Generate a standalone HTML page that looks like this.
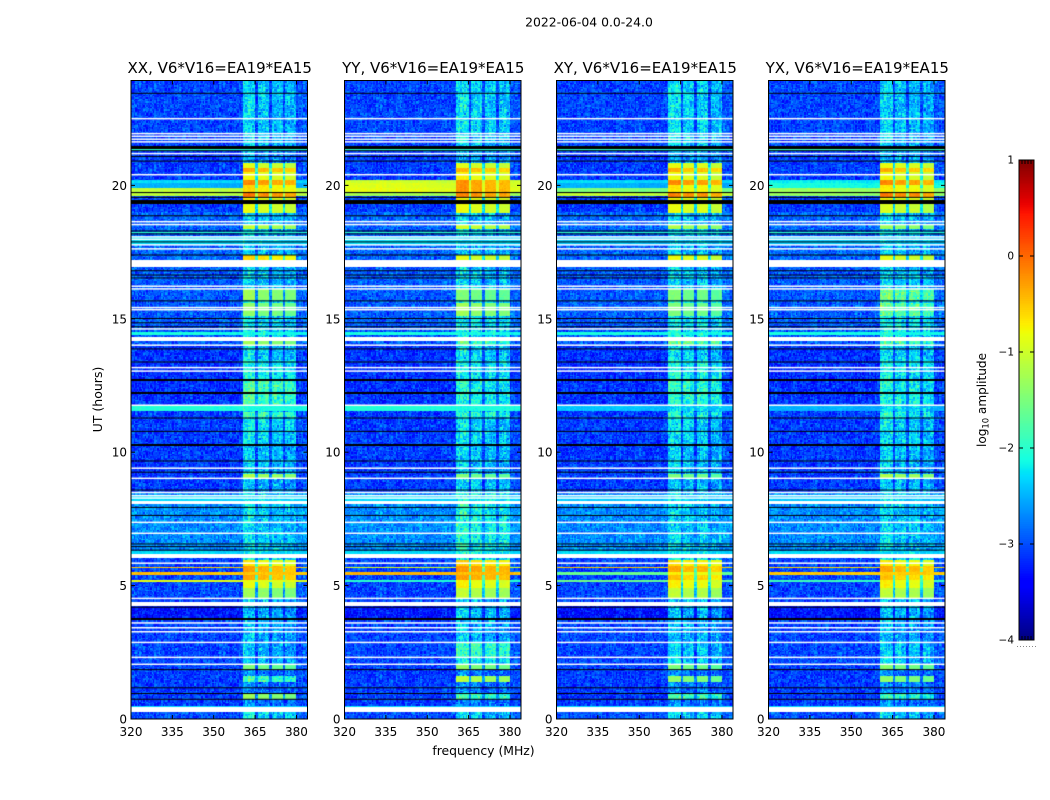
<!DOCTYPE html>
<html lang="en">
<head>
<meta charset="utf-8">
<title>2022-06-04 0.0-24.0</title>
<style>
  html, body { margin: 0; padding: 0; background: #fff; }
  #figure { position: relative; width: 1050px; height: 800px; overflow: hidden; background: #fff; }
  canvas { position: absolute; display: block; }
  svg { position: absolute; left: 0; top: 0; }
  text { font-family: "DejaVu Sans", "Liberation Sans", sans-serif; fill: #000; }
</style>
</head>
<body>
<div id="figure">
  <canvas id="colorbar-canvas" width="15" height="480" style="left:1019px;top:160px"></canvas>
  <svg id="overlay" width="1050" height="800" viewBox="0 0 1050 800">
    <text x="589" y="26.5" font-size="12.4" text-anchor="middle">2022-06-04 0.0-24.0</text>
    <text transform="translate(102,399.5) rotate(-90)" font-size="12.5" text-anchor="middle">UT (hours)</text>
    <text x="483.5" y="755" font-size="12.4" text-anchor="middle">frequency (MHz)</text>
    <text transform="translate(986,400) rotate(-90)" font-size="12.1" text-anchor="middle">log<tspan font-size="8.4" dy="2.5">10</tspan><tspan dy="-2.5"> amplitude</tspan></text>
    <line x1="1017" x2="1036" y1="646.5" y2="646.5" stroke="#888" stroke-width="1" stroke-dasharray="1 2"></line>
  </svg>
</div>
<script>
/* ---------- chart data ---------- */
const panelTitles = ["XX, V6*V16=EA19*EA15", "YY, V6*V16=EA19*EA15", "XY, V6*V16=EA19*EA15", "YX, V6*V16=EA19*EA15"];
const freqTickValues = [320, 335, 350, 365, 380];
const hourTickValues = [0, 5, 10, 15, 20];
const colorbarTickValues = [-4, -3, -2, -1, 0, 1];

/* frequency ranges (MHz) of the four bright sub-bands */
const subBands = [[360.5, 365], [366, 370], [371, 375], [376, 380]];
/* per-panel brightness offset of each sub-band (log10 amplitude) */
const subBandOffsetsXX = [0.12, 0.0, -0.05, -0.12];
const subBandOffsetsYY = [0.12, 0.02, -0.05, -0.08];
const subBandOffsetsXY = [0.12, 0.0, 0.02, -0.12];
const subBandOffsetsYX = [0.12, 0.0, 0.0, -0.12];

/* sub-band level by time: [startHour, endHour, XX, YY, XY, YX] */
const subBandLevels = [
  [23.9, 21.48, -2.42, -2.37, -2.37, -2.47],
  [21.48, 20.84, -2.6, -2.6, -2.6, -2.6],
  [20.84, 20.65, -1.0, -1.0, -0.95, -0.95],
  [20.65, 20.50, -0.45, -0.5, -0.5, -0.5],
  [20.50, 20.20, -0.9, -0.85, -0.95, -0.95],
  [20.20, 20.01, -0.3, -0.35, -0.3, -0.3],
  [20.01, 19.75, -0.7, -0.35, -0.8, -0.8],
  [19.75, 19.53, -0.2, -0.25, -0.25, -0.2],
  [19.53, 19.30, -0.85, -0.9, -0.9, -0.9],
  [19.30, 18.97, -0.95, -0.95, -0.95, -1.05],
  [18.97, 18.48, -2.47, -2.47, -2.47, -2.47],
  [18.48, 18.33, -1.2, -1.1, -1.3, -1.4],
  [18.33, 17.39, -2.47, -2.47, -2.47, -2.47],
  [17.39, 17.20, -0.7, -1.0, -0.95, -1.0],
  [17.20, 16.08, -2.42, -2.42, -2.42, -2.42],
  [16.08, 15.70, -1.4, -1.6, -1.6, -1.7],
  [15.70, 15.59, -2.22, -2.22, -2.22, -2.22],
  [15.59, 15.10, -1.5, -1.4, -1.6, -1.7],
  [15.10, 14.21, -2.27, -2.27, -2.27, -2.27],
  [14.21, 14.02, -1.4, -1.9, -1.7, -1.9],
  [14.02, 13.46, -2.37, -2.37, -2.37, -2.37],
  [13.46, 12.71, -2.17, -2.27, -2.17, -2.27],
  [12.71, 11.77, -1.85, -2.15, -2.05, -2.15],
  [11.77, 11.50, -2.37, -2.37, -2.37, -2.37],
  [11.50, 11.32, -1.9, -2.05, -2.15, -2.15],
  [11.32, 10.27, -2.32, -2.37, -2.37, -2.37],
  [10.27, 9.22, -2.47, -2.47, -2.47, -2.47],
  [9.22, 9.03, -1.3, -1.6, -1.6, -1.3],
  [9.03, 8.49, -2.5, -2.42, -2.5, -2.5],
  [8.49, 6.18, -2.37, -2.15, -2.42, -2.42],
  [6.18, 5.96, -2.22, -2.22, -2.22, -2.22],
  [5.96, 5.73, -0.8, -0.65, -0.75, -0.8],
  [5.73, 5.51, -0.4, -0.35, -0.45, -0.45],
  [5.51, 5.40, -0.9, -0.6, -0.85, -0.9],
  [5.40, 5.21, -0.45, -0.4, -0.6, -0.6],
  [5.21, 4.91, -0.95, -0.85, -0.85, -0.85],
  [4.91, 4.54, -1.4, -1.2, -1.2, -1.2],
  [4.54, 4.20, -2.42, -2.5, -2.42, -2.42],
  [4.20, 2.90, -2.55, -2.5, -2.55, -2.55],
  [2.90, 2.31, -2.5, -1.95, -2.42, -2.45],
  [2.31, 2.05, -2.5, -2.2, -2.42, -2.42],
  [2.05, 1.85, -1.6, -1.5, -1.6, -1.55],
  [1.85, 1.61, -2.8, -2.8, -2.8, -2.8],
  [1.61, 1.39, -1.9, -1.25, -1.5, -1.5],
  [1.39, 0.94, -2.8, -2.8, -2.8, -2.8],
  [0.94, 0.75, -1.4, -2.0, -1.9, -2.0],
  [0.75, 0.26, -2.8, -2.8, -2.8, -2.8],
  [0.26, 0.0, -2.3, -2.4, -2.4, -2.4]
];

/* full-width bright bands and lines: [startHour, endHour, XX, YY, XY, YX] */
const wideBandLevels = [
  [21.36, 21.28, -2.0, -2.0, -2.0, -1.9],
  [20.22, 20.10, -2.3, -1.0, -2.3, -2.2],
  [20.10, 19.90, -2.5, -0.9, -2.5, -2.1],
  [19.90, 19.76, -1.1, -0.85, -1.5, -1.3],
  [19.70, 19.58, -1.1, -1.25, -1.05, -1.35],
  [18.27, 18.18, -2.0, -2.0, -2.0, -2.0],
  [18.07, 17.77, -2.3, -2.3, -2.4, -2.4],
  [14.50, 14.39, -2.1, -2.1, -2.1, -2.1],
  [11.73, 11.56, -2.05, -2.05, -2.4, -2.5],
  [8.40, 8.10, -2.3, -2.3, -2.4, -2.4],
  [6.30, 6.18, -2.3, -2.3, -2.3, -2.3],
  [5.72, 5.66, -0.5, -0.9, -0.5, -0.6],
  [5.48, 5.42, -0.45, -0.4, -1.6, -0.5],
  [5.22, 5.16, -0.85, -2.0, -1.6, -1.9],
  [0.49, 0.45, -2.3, -2.3, -2.3, -2.3]
];

/* background level by time: [startHour, endHour, level] */
const backgroundLevels = [
  [24.0, 21.5, -3.05],
  [21.5, 19.0, -3.1],
  [19.0, 17.2, -2.9],
  [17.2, 14.0, -2.95],
  [14.0, 11.8, -3.15],
  [11.8, 8.5, -3.1],
  [8.5, 6.2, -2.7],
  [6.2, 4.3, -3.05],
  [4.3, 3.7, -3.3],
  [3.7, 1.9, -3.05],
  [1.9, 0.5, -3.1],
  [0.5, 0.0, -3.0]
];

/* flagged single rows (hour at line centre) */
const whiteRowHours = [22.50, 21.94, 21.84, 21.73, 21.63, 21.19, 20.40, 18.64, 18.53, 18.07, 17.98, 17.77, 17.62,
  16.22, 16.12, 15.42, 15.34, 14.62, 14.01, 13.17, 13.04, 11.76, 9.40, 9.02, 8.49, 8.37, 8.28,
  7.37, 6.96, 5.84, 4.52, 3.60, 3.42, 3.27, 2.87, 2.31, 2.05];
const blackRowHours = [23.45, 21.30, 21.08, 20.91, 19.73, 19.55, 18.86, 18.29, 18.18, 17.88, 17.39,
  16.80, 16.64, 16.53, 15.67, 15.01, 14.85, 14.70, 13.87, 13.38, 11.28, 10.78, 9.67, 9.25,
  8.58, 7.93, 7.63, 6.56, 6.46, 6.33, 4.19, 1.85, 1.17, 0.74];
/* flagged multi-row blocks: [startHour, endHour] */
const whiteBlocks = [[17.20, 16.93], [14.33, 14.18], [8.17, 8.06], [6.18, 6.02], [4.37, 4.25], [0.45, 0.26]];
const blackBlocks = [[21.49, 21.38], [19.45, 19.30], [12.74, 12.67], [12.25, 12.18], [10.30, 10.23], [3.78, 3.71], [0.99, 0.92]];

/* Fine pixel grain: a generic repeating texture, NOT read cell by cell from the reference. */
const speckleTexture = [0.12, -0.21, 0.31, -0.08, 0.02, -0.34, 0.19, 0.27, -0.15, 0.05, -0.26, 0.36, -0.02, -0.18, 0.09,
  0.24, -0.31, 0.14, -0.06, 0.33, -0.23, 0.07, -0.12, 0.21, -0.37, 0.16, 0.01, -0.09, 0.29, -0.28, 0.11,
  -0.17, 0.38, -0.04, 0.18, -0.33, 0.06, -0.24, 0.26, 0.0, -0.14, 0.34, -0.19, 0.08, -0.29, 0.22, -0.07,
  0.15, -0.36, 0.28, 0.03, -0.11, 0.2, -0.25, 0.1, 0.32, -0.16, -0.03, 0.25, -0.3, 0.13];

/* ---------- layout and scales ---------- */
const panelLefts = [131, 344.5, 556.5, 768.5];
const panelWidth = 176.5;
const panelTop = 80.5;
const panelBottom = 719;
const freqMin = 320, freqMax = 384;
const hourMin = 0, hourMax = 23.93;
const svgNS = "http://www.w3.org/2000/svg";
const overlay = document.getElementById("overlay");
const figure = document.getElementById("figure");

const xScale = (f, left) => left + (f - freqMin) / (freqMax - freqMin) * panelWidth;
const yScale = h => panelBottom - (h - hourMin) / (hourMax - hourMin) * (panelBottom - panelTop);

function jet(t) {
  const c = s => Math.round(255 * Math.max(0, Math.min(1, s)));
  const r = t < 0.35 ? 0 : t < 0.66 ? (t - 0.35) / 0.31 : t < 0.89 ? 1 : 1 - (t - 0.89) / 0.11 * 0.5;
  const g = t < 0.125 ? 0 : t < 0.375 ? (t - 0.125) / 0.25 : t < 0.64 ? 1 : t < 0.91 ? 1 - (t - 0.64) / 0.27 : 0;
  const b = t < 0.11 ? 0.5 + t / 0.11 * 0.5 : t < 0.34 ? 1 : t < 0.65 ? 1 - (t - 0.34) / 0.31 : 0;
  return "rgb(" + c(r) + "," + c(g) + "," + c(b) + ")";
}
const colorScale = v => jet((v + 4) / 5);

function makeLine(x1, y1, x2, y2, width) {
  const el = document.createElementNS(svgNS, "line");
  el.setAttribute("x1", x1);
  el.setAttribute("y1", y1);
  el.setAttribute("x2", x2);
  el.setAttribute("y2", y2);
  el.setAttribute("stroke", "#000");
  el.setAttribute("stroke-width", width || 1);
  overlay.appendChild(el);
  return el;
}
function makeText(x, y, str, size, anchor) {
  const el = document.createElementNS(svgNS, "text");
  el.setAttribute("x", x);
  el.setAttribute("y", y);
  el.setAttribute("font-size", size);
  el.setAttribute("text-anchor", anchor);
  el.textContent = str;
  overlay.appendChild(el);
  return el;
}
function lookup(table, h, column) {
  for (const row of table) {
    if (h <= Math.max(row[0], row[1]) && h > Math.min(row[0], row[1])) return row[column];
  }
  return null;
}
function grainAt(c, r) {
  const n = speckleTexture.length;
  const a = speckleTexture[(c * c * 7 + r * 13 + c) % n];
  const b = speckleTexture[(r * r * 11 + c * 23 + r) % n];
  return (a + b) * 0.8;
}

/* ---------- heatmaps ---------- */
const rowStep = 0.05, channelStep = 0.5;
const offsetSets = [subBandOffsetsXX, subBandOffsetsYY, subBandOffsetsXY, subBandOffsetsYX];

function cellValue(panel, f, h, c, r) {
  const grain = grainAt(c, r);
  let bg = lookup(backgroundLevels, h, 2);
  if (bg === null) bg = -3;
  if (f > 380.5) bg += 0.1;
  let v = bg + grain * 0.8;
  const wide = lookup(wideBandLevels, h, panel + 2);
  if (wide !== null) v = Math.max(v, wide + grain * 0.2 - (f > 350 ? 0.05 : 0));
  let gate = lookup(subBandLevels, h, panel + 2);
  if (gate === null) gate = -2.8;
  const strong = gate > -1.7;
  let inStrip = false;
  for (let s = 0; s < subBands.length; s++) {
    if (f >= subBands[s][0] && f < subBands[s][1]) {
      inStrip = true;
      v = Math.max(v, gate + offsetSets[panel][s] + grain * (strong ? 0.2 : 1.0));
    }
  }
  if (!inStrip && f >= 360.5 && f < 380) {
    v = Math.max(v, gate - (strong ? 1.3 : 0.7) + grain * 0.6);
  }
  return v;
}

panelLefts.forEach((left, panel) => {
  const cv = document.createElement("canvas");
  
  
  const px = Math.floor(left);
  const wpx = Math.ceil(panelWidth);
  const tpx = Math.floor(panelTop);
  const hpx = Math.ceil(panelBottom - panelTop);
  cv.width = wpx;
  cv.height = hpx;
  cv.style.left = px + "px";
  cv.style.top = tpx + "px";
  figure.insertBefore(cv, overlay);
  const ctx = cv.getContext("2d");
  ctx.fillStyle = colorScale(-3);
  ctx.fillRect(0, 0, wpx, hpx);

  const nChannels = Math.round((freqMax - freqMin) / channelStep);
  const nRows = Math.round((hourMax - hourMin) / rowStep);
  for (let r = 0; r < nRows; r++) {
    const h = hourMin + (r + 0.5) * rowStep;
    const y0 = Math.round(yScale(hourMin + (r + 1) * rowStep)) - tpx;
    const y1 = Math.round(yScale(hourMin + r * rowStep)) - tpx;
    for (let c = 0; c < nChannels; c++) {
      const f = freqMin + (c + 0.5) * channelStep;
      const x0 = Math.round(xScale(freqMin + c * channelStep, left)) - px;
      const x1 = Math.round(xScale(freqMin + (c + 1) * channelStep, left)) - px;
      ctx.fillStyle = colorScale(cellValue(panel, f, h, c + panel * 41, r + panel * 17));
      ctx.fillRect(x0, y0, x1 - x0, y1 - y0);
    }
  }
  const flagRow = (hour, color, thickness) => {
    ctx.fillStyle = color;
    ctx.fillRect(0, yScale(hour) - thickness / 2 - tpx, wpx, thickness);
  };
  const flagBlock = (block, color) => {
    ctx.fillStyle = color;
    const yTop = Math.round(yScale(block[0])) - tpx;
    const yEnd = Math.round(yScale(block[1])) - tpx;
    ctx.fillRect(0, yTop, wpx, yEnd - yTop);
  };
  blackRowHours.forEach(hr => flagRow(hr, "#000", 1));
  blackBlocks.forEach(b => flagBlock(b, "#000"));
  whiteRowHours.forEach(hr => flagRow(hr, "#fff", 1.5));
  whiteBlocks.forEach(b => flagBlock(b, "#fff"));

  /* frame */
  const frame = document.createElementNS(svgNS, "rect");
  frame.setAttribute("x", left);
  frame.setAttribute("y", panelTop);
  frame.setAttribute("width", panelWidth);
  frame.setAttribute("height", panelBottom - panelTop);
  frame.setAttribute("fill", "none");
  frame.setAttribute("stroke", "#000");
  frame.setAttribute("stroke-width", "1");
  
  
  overlay.appendChild(frame);

  /* title */
  const title = makeText(left + panelWidth / 2 + 0.5, 73, panelTitles[panel], 15, "middle");
  
  

  /* x ticks */
  freqTickValues.forEach(f => {
    const x = xScale(f, left);
    const bottomTick = makeLine(x, panelBottom, x, panelBottom - 4);
    
    
    const topTick = makeLine(x, panelTop, x, panelTop + 4);
    
    
    const label = makeText(x, 736, String(f), 12, "middle");
    
    
  });

  /* y ticks */
  hourTickValues.forEach(hr => {
    const y = yScale(hr);
    const leftTick = makeLine(left, y, left + 4, y);
    
    
    const rightTick = makeLine(left + panelWidth, y, left + panelWidth - 4, y);
    
    
    const label = makeText(left - 4, y + 4.5, String(hr), 12, "end");
    
    
  });
});

/* ---------- colorbar ---------- */
const cbTop = 160, cbBottom = 640, cbLeft = 1019, cbRight = 1034;
const cbScale = v => cbBottom - (v + 4) / 5 * (cbBottom - cbTop);
const cbCtx = document.getElementById("colorbar-canvas").getContext("2d");
for (let i = 0; i < 256; i++) {
  const v0 = -4 + i / 256 * 5;
  const v1 = -4 + (i + 1) / 256 * 5;
  cbCtx.fillStyle = colorScale((v0 + v1) / 2);
  const yA = Math.round(cbScale(v1)) - cbTop;
  const yB = Math.round(cbScale(v0)) - cbTop;
  cbCtx.fillRect(0, yA, 15, yB - yA);
}
const cbFrame = document.createElementNS(svgNS, "rect");
cbFrame.setAttribute("x", cbLeft);
cbFrame.setAttribute("y", cbTop);
cbFrame.setAttribute("width", cbRight - cbLeft);
cbFrame.setAttribute("height", cbBottom - cbTop);
cbFrame.setAttribute("fill", "none");
cbFrame.setAttribute("stroke", "#000");
cbFrame.setAttribute("stroke-width", "1");


overlay.appendChild(cbFrame);

colorbarTickValues.forEach(v => {
  const y = cbScale(v);
  const leftTick = makeLine(cbLeft, y, cbLeft + 4, y);
  
  
  const rightTick = makeLine(cbRight, y, cbRight - 4, y);
  
  
  const text = v < 0 ? "\u2212" + Math.abs(v) : String(v);
  const label = makeText(cbLeft - 5, y + 3.5, text, 10.5, "end");
  
  
});
for (let i = 1; i <= 4; i++) {
  const x = cbLeft + (cbRight - cbLeft) * i / 5;
  const topMark = makeLine(x, cbTop, x, cbTop + 4);
  
  
  const bottomMark = makeLine(x, cbBottom, x, cbBottom - 4);
  
  
}
</script>
</body>
</html>
